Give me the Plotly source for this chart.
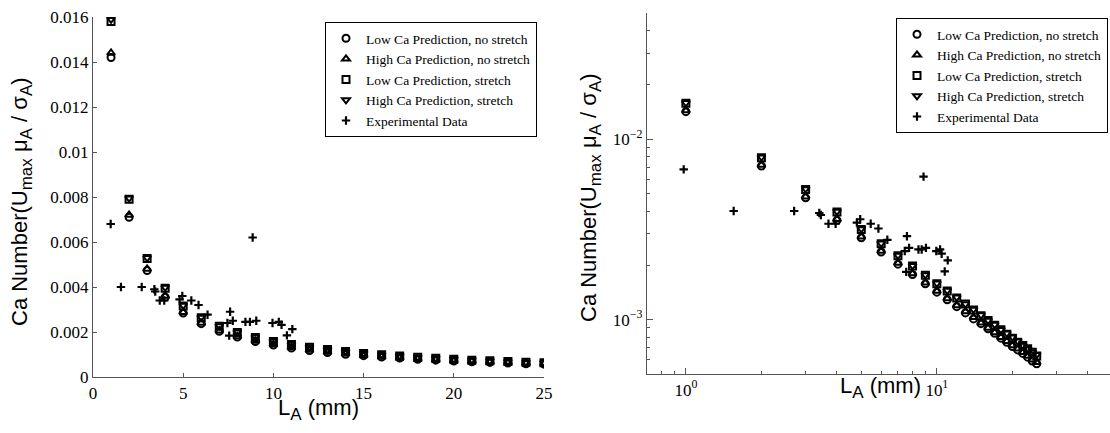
import plotly.graph_objects as go

# ---- data ----
L_pred = list(range(1, 26))
low_nostretch = [0.0142, 0.0071, 0.00473, 0.00355, 0.00284, 0.00237, 0.00203, 0.00178, 0.00158, 0.00142,
                 0.00129, 0.00118, 0.00109, 0.00101, 0.00095, 0.00089, 0.00084, 0.00079, 0.00075, 0.00071,
                 0.00068, 0.00065, 0.00062, 0.00059, 0.00057]
high_nostretch = [0.0144, 0.0072, 0.0048, 0.0036, 0.00288, 0.0024, 0.00206, 0.0018, 0.0016, 0.00144,
                  0.00131, 0.0012, 0.00111, 0.00103, 0.00096, 0.0009, 0.00085, 0.0008, 0.00076, 0.00072,
                  0.00069, 0.00066, 0.00063, 0.0006, 0.00058]
low_stretch = [0.0158, 0.0079, 0.00527, 0.00395, 0.00316, 0.00263, 0.00226, 0.00198, 0.00176, 0.00158,
               0.00144, 0.00132, 0.00122, 0.00113, 0.00105, 0.00099, 0.00093, 0.00088, 0.00083, 0.00079,
               0.00075, 0.00072, 0.00069, 0.00066, 0.00063]
high_stretch = [0.0159, 0.00795, 0.0053, 0.00398, 0.00318, 0.00265, 0.00227, 0.00199, 0.00177, 0.00159,
                0.00145, 0.00133, 0.00122, 0.00114, 0.00106, 0.00099, 0.00094, 0.00088, 0.00084, 0.0008,
                0.00076, 0.00072, 0.00069, 0.00066, 0.00064]
L_exp = [0.98, 1.55, 2.7, 3.4, 3.45, 3.7, 3.95, 4.8, 4.95, 5.45, 5.85, 6.35, 7.45, 7.55, 7.6, 7.75,
         8.45, 8.7, 8.85, 9.05, 9.95, 10.3, 10.45, 10.75, 11.05]
ca_exp = [0.0068, 0.0040, 0.0040, 0.0039, 0.0038, 0.0034, 0.0034, 0.00345, 0.0036, 0.0034, 0.0032,
          0.00277, 0.0024, 0.00184, 0.0029, 0.0025, 0.00245, 0.00245, 0.0062, 0.0025, 0.0024, 0.00245,
          0.00232, 0.00185, 0.00213]

series_names = ["Low Ca Prediction, no stretch", "High Ca Prediction, no stretch",
                "Low Ca Prediction, stretch", "High Ca Prediction, stretch", "Experimental Data"]

left_xticks = [0, 5, 10, 15, 20, 25]
left_yticks = [0, 0.002, 0.004, 0.006, 0.008, 0.01, 0.012, 0.014, 0.016]
left_yticktext = ["0", "0.002", "0.004", "0.006", "0.008", "0.01", "0.012", "0.014", "0.016"]
right_xmajor = [1, 10]
right_xmajor_text = ["10<sup>0</sup>", "10<sup>1</sup>"]
right_xminor = [0.7, 0.8, 0.9, 2, 3, 4, 5, 6, 7, 8, 9, 20, 30, 40]
right_ymajor = [0.001, 0.01]
right_ymajor_text = ["10<sup>\u22123</sup>", "10<sup>\u22122</sup>"]
right_yminor = [0.0005, 0.0006, 0.0007, 0.0008, 0.0009, 0.002, 0.003, 0.004, 0.005, 0.006, 0.007,
                0.008, 0.009, 0.02, 0.03, 0.04, 0.05]

W, H = 1110, 433
SERIF = "Liberation Serif, Times New Roman, serif"
SANS = "Liberation Sans, Arial, sans-serif"

pred = [(low_nostretch, "circle-open"), (high_nostretch, "triangle-up-open"),
        (low_stretch, "square-open"), (high_stretch, "triangle-down-open")]

fig = go.Figure()
for xa, ya, lg in [("x", "y", "legend"), ("x2", "y2", "legend2")]:
    for (vals, sym), name in zip(pred, series_names[:4]):
        fig.add_trace(go.Scatter(
            x=L_pred, y=vals, mode="markers", name=name, xaxis=xa, yaxis=ya, legend=lg,
            marker=dict(symbol=sym, size=7, color="black", line=dict(color="black", width=2)),
        ))
    fig.add_trace(go.Scatter(
        x=L_exp, y=ca_exp, mode="markers", name=series_names[4], xaxis=xa, yaxis=ya, legend=lg,
        marker=dict(symbol="cross-thin", size=6, color="black", line=dict(color="black", width=2.2)),
    ))


def px_x(p):
    return p / W


def px_y(p):
    return (H - p) / H


axis_common = dict(showline=True, linecolor="#555", linewidth=1.2, showgrid=False, zeroline=False,
                   ticks="inside", tickcolor="#555", tickfont=dict(family=SERIF, size=17, color="black"),
                   mirror=False, automargin=False)

fig.update_layout(
    template="none",
    width=W, height=H, margin=dict(l=0, r=0, t=0, b=0, autoexpand=False),
    paper_bgcolor="white", plot_bgcolor="white",
    xaxis=dict(domain=[px_x(93), px_x(544)], range=[0, 25], tickmode="array", tickvals=left_xticks,
               ticklen=4, anchor="y", **axis_common),
    yaxis=dict(domain=[px_y(377), px_y(17)], range=[0, 0.016], tickmode="array", tickvals=left_yticks,
               ticktext=left_yticktext, ticklen=4, anchor="x", **axis_common),
    xaxis2=dict(domain=[px_x(647), 1.0], type="log", range=[-0.155, 1.69], tickmode="array",
                tickvals=right_xmajor, ticktext=right_xmajor_text, ticklen=6, anchor="y2",
                minor=dict(tickmode="array", tickvals=right_xminor, ticks="inside", ticklen=3,
                           tickcolor="#555", showgrid=False),
                **axis_common),
    yaxis2=dict(domain=[px_y(374), px_y(13)], type="log", range=[-3.301, -1.301], tickmode="array",
                tickvals=right_ymajor, ticktext=right_ymajor_text, ticklen=6, anchor="x2",
                minor=dict(tickmode="array", tickvals=right_yminor, ticks="inside", ticklen=3,
                           tickcolor="#555", showgrid=False),
                **axis_common),
    showlegend=True,
    legend=dict(x=px_x(537), y=px_y(22), xanchor="right", yanchor="top", bgcolor="white",
                bordercolor="black", borderwidth=1, font=dict(family=SERIF, size=13.5, color="black"),
                tracegroupgap=0),
    legend2=dict(x=px_x(1108), y=px_y(18), xanchor="right", yanchor="top", bgcolor="white",
                 bordercolor="black", borderwidth=1, font=dict(family=SERIF, size=13.5, color="black"),
                 tracegroupgap=0),
)

SUB = '<sub><span style="font-size:17px">{}</span></sub>'
ytitle = ("Ca Number(U" + SUB.format("max") + " \u03bc" + SUB.format("A") + " / \u03c3"
          + SUB.format("A") + ")")
xtitle = "L" + SUB.format("A") + " (mm)"
title_font = dict(family=SANS, size=22, color="black")
fig.add_annotation(text=ytitle, x=px_x(21), y=px_y(202), xref="paper", yref="paper", textangle=-90,
                   showarrow=False, font=title_font, xanchor="center", yanchor="middle")
fig.add_annotation(text=ytitle, x=px_x(590), y=px_y(198), xref="paper", yref="paper", textangle=-90,
                   showarrow=False, font=title_font, xanchor="center", yanchor="middle")
fig.add_annotation(text=xtitle, x=px_x(318), y=px_y(393), xref="paper", yref="paper",
                   showarrow=False, font=title_font, xanchor="center", yanchor="top")
fig.add_annotation(text=xtitle, x=px_x(880), y=px_y(371), xref="paper", yref="paper",
                   showarrow=False, font=title_font, xanchor="center", yanchor="top")

fig.write_html("out.html", config={"displayModeBar": False},
               post_script="document.body.style.margin='0';document.body.style.overflow='hidden';")
